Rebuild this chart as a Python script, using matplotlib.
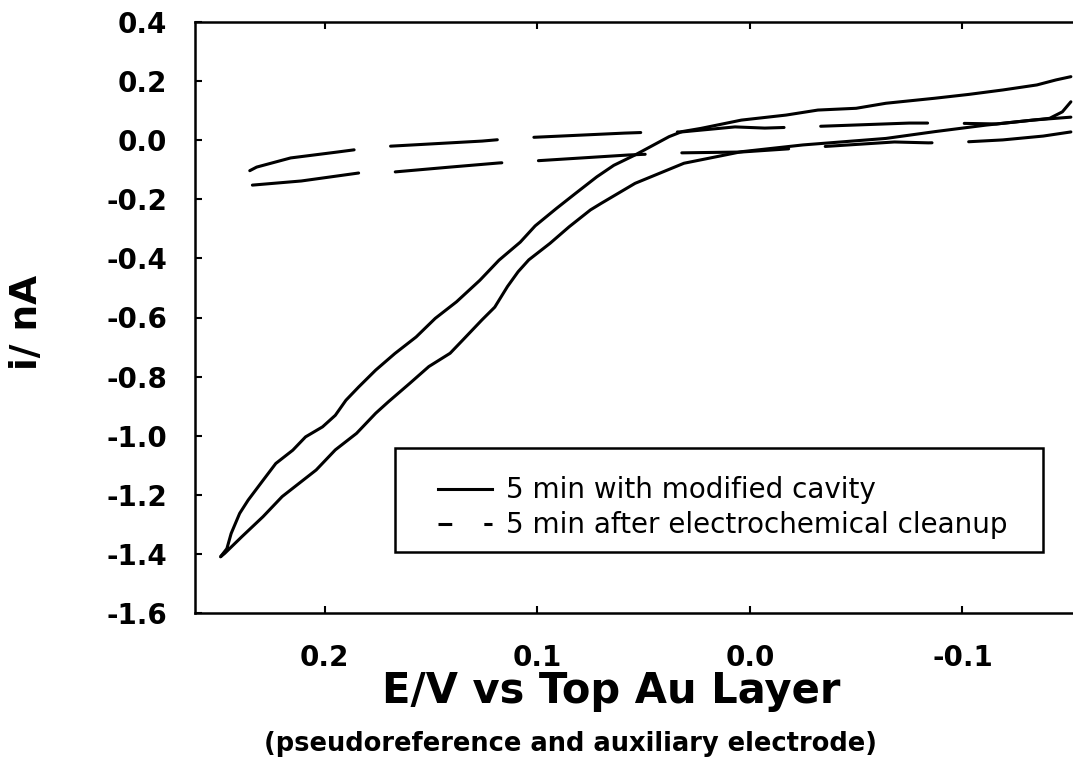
import matplotlib
matplotlib.use("Agg")
import matplotlib.pyplot as plt
from matplotlib.lines import Line2D
from matplotlib.patches import Rectangle

plt.rcParams['font.family'] = ['DejaVu Sans']
plt.rcParams['axes.unicode_minus'] = False

# solid loop (5 min with modified cavity): upper branch, right end -> vertex
solid_upper_E = [-0.151, -0.144, -0.135, -0.119, -0.103, -0.087, -0.064, -0.050, -0.032,
                 -0.017, 0.004, 0.023, 0.032, 0.038, 0.054, 0.064, 0.072, 0.082, 0.091,
                 0.101, 0.108, 0.118, 0.127, 0.138, 0.148, 0.157, 0.167, 0.176, 0.184,
                 0.190, 0.195, 0.201, 0.209, 0.215, 0.223, 0.229, 0.236, 0.240, 0.244,
                 0.246, 0.249]
solid_upper_i = [0.215, 0.204, 0.187, 0.170, 0.155, 0.142, 0.125, 0.108, 0.102,
                 0.085, 0.068, 0.040, 0.029, 0.012, -0.050, -0.085, -0.124, -0.180, -0.231,
                 -0.290, -0.345, -0.406, -0.474, -0.547, -0.603, -0.666, -0.722, -0.778, -0.835,
                 -0.880, -0.931, -0.970, -1.004, -1.049, -1.094, -1.151, -1.218, -1.263, -1.331,
                 -1.382, -1.410]
# lower branch, vertex -> right end
solid_lower_E = [0.247, 0.239, 0.229, 0.220, 0.212, 0.204, 0.195, 0.185, 0.176, 0.170,
                 0.160, 0.151, 0.141, 0.135, 0.126, 0.120, 0.114, 0.109, 0.104, 0.094, 0.085,
                 0.075, 0.070, 0.054, 0.031, 0.004, -0.025, -0.064, -0.087, -0.111,
                 -0.141, -0.147, -0.151]
solid_lower_i = [-1.398, -1.342, -1.274, -1.206, -1.161, -1.116, -1.048, -0.992, -0.924, -0.885,
                 -0.823, -0.766, -0.721, -0.676, -0.608, -0.565, -0.495, -0.445, -0.405, -0.349, -0.293,
                 -0.236, -0.214, -0.146, -0.078, -0.039, -0.016, 0.006, 0.029, 0.051,
                 0.074, 0.096, 0.130]

# dashed loop (5 min after electrochemical cleanup)
dash_upper_E = [-0.151, -0.133, -0.116, -0.092, -0.075, -0.025, -0.007, 0.007, 0.032,
                0.043, 0.059, 0.110, 0.126, 0.176, 0.194, 0.216, 0.232, 0.240, 0.243]
dash_upper_i = [0.078, 0.068, 0.055, 0.058, 0.058, 0.045, 0.041, 0.045, 0.028,
                0.028, 0.024, 0.007, -0.003, -0.023, -0.040, -0.060, -0.091, -0.121, -0.141]
dash_lower_E = [0.234, 0.211, 0.184, 0.168, 0.141, 0.118, 0.101, 0.079, 0.057, 0.034,
                0.004, -0.025, -0.068, -0.084, -0.101, -0.119, -0.138, -0.151]
dash_lower_i = [-0.152, -0.138, -0.111, -0.108, -0.091, -0.077, -0.070, -0.060, -0.050, -0.043,
                -0.040, -0.026, -0.006, -0.009, -0.006, 0.001, 0.014, 0.028]

x_ticks = [0.2, 0.1, 0.0, -0.1]
x_labels = ['0.2', '0.1', '0.0', '-0.1']
y_ticks = [0.4, 0.2, 0.0, -0.2, -0.4, -0.6, -0.8, -1.0, -1.2, -1.4, -1.6]
y_labels = ['0.4', '0.2', '0.0', '-0.2', '-0.4', '-0.6', '-0.8', '-1.0', '-1.2', '-1.4', '-1.6']
legend_labels = ['5 min with modified cavity', '5 min after electrochemical cleanup']

W, H = 1073, 772
fig = plt.figure(figsize=(W / 100, H / 100), dpi=100)
ax = fig.add_axes([195 / W, 1 - 613 / H, 1 - 195 / W, (613 - 22) / H])

lw = 2.2
ax.plot(solid_upper_E + solid_lower_E, solid_upper_i + solid_lower_i,
        color='black', lw=lw, solid_capstyle='round', solid_joinstyle='round')
ax.plot(dash_upper_E, dash_upper_i, color='black', lw=lw, dashes=(35, 12),
        dash_capstyle='round')
ax.plot(dash_lower_E, dash_lower_i, color='black', lw=lw, dashes=(35, 12),
        dash_capstyle='round')

ax.set_xlim(0.261, -0.152)
ax.set_ylim(-1.6, 0.4)
ax.set_xticks(x_ticks)
ax.set_xticklabels(x_labels)
ax.set_yticks(y_ticks)
ax.set_yticklabels(y_labels)
ax.tick_params(direction='in', length=5, width=1.5, top=True, labelsize=20)
ax.tick_params(axis='y', pad=20)
ax.tick_params(axis='x', pad=22)
for lab in ax.get_xticklabels() + ax.get_yticklabels():
    lab.set_fontweight('bold')
for side in ['left', 'bottom', 'top']:
    ax.spines[side].set_linewidth(1.8)
ax.spines['right'].set_visible(False)

# legend box drawn separately so it keeps the wide shape of the original
ax.add_patch(Rectangle((0.228, 0.103), 0.738, 0.176, transform=ax.transAxes,
                       fill=True, facecolor='white', edgecolor='black', lw=1.8, zorder=4))
handles = [Line2D([], [], color='black', lw=lw),
           Line2D([], [], color='black', lw=lw, dashes=(4.5, 10.5))]
leg = ax.legend(handles, legend_labels, loc='center left',
                bbox_to_anchor=(0.2768, 0.178), fontsize=20, handlelength=1.95,
                handletextpad=0.5, frameon=False, borderpad=0, borderaxespad=0,
                labelspacing=0.25)
leg.set_zorder(5)

fig.text(27 / W, 1 - 322 / H, 'i/ nA', rotation=90, ha='center', va='center',
         fontsize=27, fontweight='bold')
fig.text(611 / W, 1 - 703 / H, 'E/V vs Top Au Layer', ha='center', va='baseline',
         fontsize=30, fontweight='bold')
fig.text(571 / W, 1 - 751 / H, '(pseudoreference and auxiliary electrode)',
         ha='center', va='baseline', fontsize=18.5, fontweight='bold')

fig.savefig('out.png', dpi=100)
